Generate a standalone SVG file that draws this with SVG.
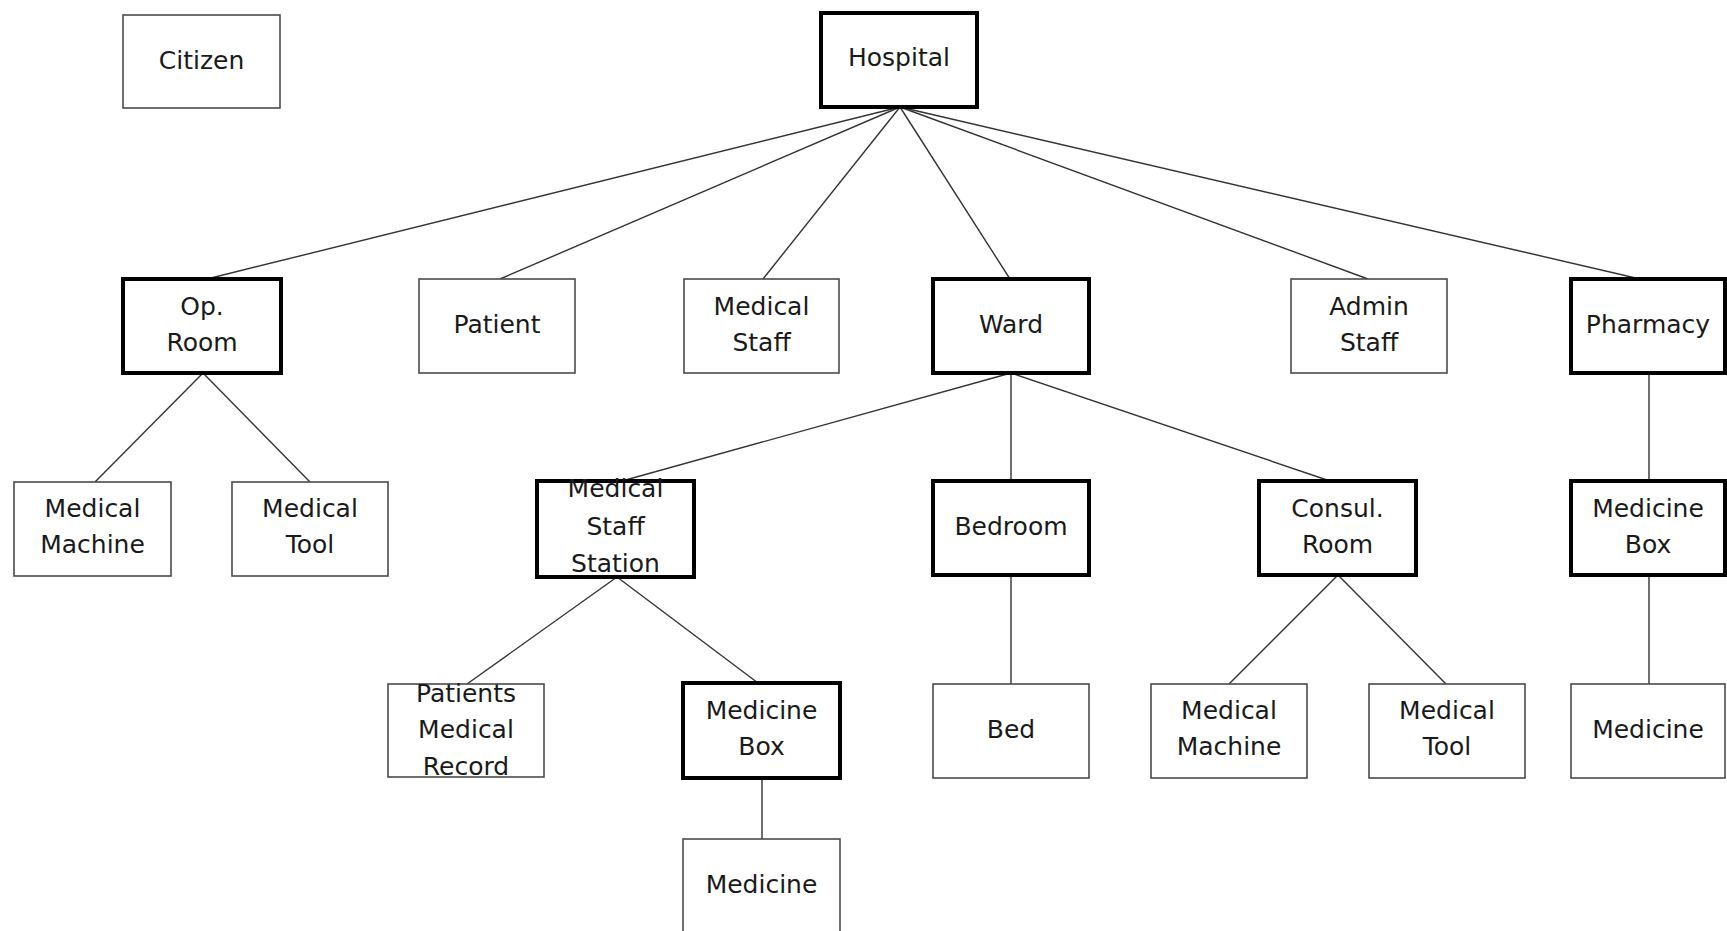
<svg xmlns="http://www.w3.org/2000/svg" width="1727" height="931" viewBox="0 0 1727 931">
<style>
.bg{fill:#fff}
.thin{fill:#fff;stroke:#4a4a4a;stroke-width:1.6}
.thick{fill:#fff;stroke:#000;stroke-width:4}
.lbl{font-family:"DejaVu Sans","Liberation Sans",sans-serif;font-size:25px;fill:#1a1a1a;text-anchor:middle}
.conn line{stroke:#333;stroke-width:1.4}
</style>
<rect class="bg" x="0" y="0" width="1727" height="931"/>
<g id="connectors" class="conn">
<line x1="900" y1="107" x2="207" y2="279"/>
<line x1="900" y1="107" x2="500" y2="279"/>
<line x1="900" y1="107" x2="763" y2="279"/>
<line x1="900" y1="107" x2="1010" y2="279"/>
<line x1="900" y1="107" x2="1368" y2="279"/>
<line x1="900" y1="107" x2="1640" y2="279"/>
<line x1="203" y1="373" x2="95" y2="482"/>
<line x1="203" y1="373" x2="310" y2="482"/>
<line x1="1011" y1="373" x2="622" y2="481"/>
<line x1="1011" y1="373" x2="1011" y2="481"/>
<line x1="1011" y1="373" x2="1330" y2="481"/>
<line x1="617" y1="577" x2="467" y2="684"/>
<line x1="617" y1="577" x2="758" y2="683"/>
<line x1="762" y1="778" x2="762" y2="839"/>
<line x1="1011" y1="575" x2="1011" y2="684"/>
<line x1="1338" y1="575" x2="1229" y2="684"/>
<line x1="1338" y1="575" x2="1446" y2="684"/>
<line x1="1649" y1="373" x2="1649" y2="481"/>
<line x1="1649" y1="575" x2="1649" y2="684"/>
</g>
<g id="citizen"><rect class="thin" x="123" y="15" width="157" height="93"/><text class="lbl" x="201.5" y="69">Citizen</text></g>
<g id="hospital"><rect class="thick" x="821" y="13" width="156" height="94"/><text class="lbl" x="899" y="66">Hospital</text></g>
<g id="op-room"><rect class="thick" x="123" y="279" width="158" height="94"/><text class="lbl" x="202" y="315">Op.</text><text class="lbl" x="202" y="351">Room</text></g>
<g id="patient"><rect class="thin" x="419" y="279" width="156" height="94"/><text class="lbl" x="497" y="333">Patient</text></g>
<g id="medical-staff"><rect class="thin" x="684" y="279" width="155" height="94"/><text class="lbl" x="761.5" y="315">Medical</text><text class="lbl" x="761.5" y="351">Staff</text></g>
<g id="ward"><rect class="thick" x="933" y="279" width="156" height="94"/><text class="lbl" x="1011" y="333">Ward</text></g>
<g id="admin-staff"><rect class="thin" x="1291" y="279" width="156" height="94"/><text class="lbl" x="1369" y="315">Admin</text><text class="lbl" x="1369" y="351">Staff</text></g>
<g id="pharmacy"><rect class="thick" x="1571" y="279" width="154" height="94"/><text class="lbl" x="1648" y="333">Pharmacy</text></g>
<g id="op-medical-machine"><rect class="thin" x="14" y="482" width="157" height="94"/><text class="lbl" x="92.5" y="517">Medical</text><text class="lbl" x="92.5" y="553">Machine</text></g>
<g id="op-medical-tool"><rect class="thin" x="232" y="482" width="156" height="94"/><text class="lbl" x="310" y="517">Medical</text><text class="lbl" x="310" y="553">Tool</text></g>
<g id="medical-staff-station"><rect class="thick" x="537" y="481" width="157" height="96"/><text class="lbl" x="615.5" y="497">Medical</text><text class="lbl" x="615.5" y="535">Staff</text><text class="lbl" x="615.5" y="572">Station</text></g>
<g id="bedroom"><rect class="thick" x="933" y="481" width="156" height="94"/><text class="lbl" x="1011" y="535">Bedroom</text></g>
<g id="consul-room"><rect class="thick" x="1259" y="481" width="157" height="94"/><text class="lbl" x="1337.5" y="517">Consul.</text><text class="lbl" x="1337.5" y="553">Room</text></g>
<g id="pharmacy-medicine-box"><rect class="thick" x="1571" y="481" width="154" height="94"/><text class="lbl" x="1648" y="517">Medicine</text><text class="lbl" x="1648" y="553">Box</text></g>
<g id="patients-medical-record"><rect class="thin" x="388" y="684" width="156" height="93"/><text class="lbl" x="466" y="702">Patients</text><text class="lbl" x="466" y="738">Medical</text><text class="lbl" x="466" y="775">Record</text></g>
<g id="station-medicine-box"><rect class="thick" x="683" y="683" width="157" height="95"/><text class="lbl" x="761.5" y="719">Medicine</text><text class="lbl" x="761.5" y="755">Box</text></g>
<g id="bed"><rect class="thin" x="933" y="684" width="156" height="94"/><text class="lbl" x="1011" y="738">Bed</text></g>
<g id="consul-medical-machine"><rect class="thin" x="1151" y="684" width="156" height="94"/><text class="lbl" x="1229" y="719">Medical</text><text class="lbl" x="1229" y="755">Machine</text></g>
<g id="consul-medical-tool"><rect class="thin" x="1369" y="684" width="156" height="94"/><text class="lbl" x="1447" y="719">Medical</text><text class="lbl" x="1447" y="755">Tool</text></g>
<g id="pharmacy-medicine"><rect class="thin" x="1571" y="684" width="154" height="94"/><text class="lbl" x="1648" y="738">Medicine</text></g>
<g id="station-medicine"><rect class="thin" x="683" y="839" width="157" height="100"/><text class="lbl" x="761.5" y="893">Medicine</text></g>
</svg>
